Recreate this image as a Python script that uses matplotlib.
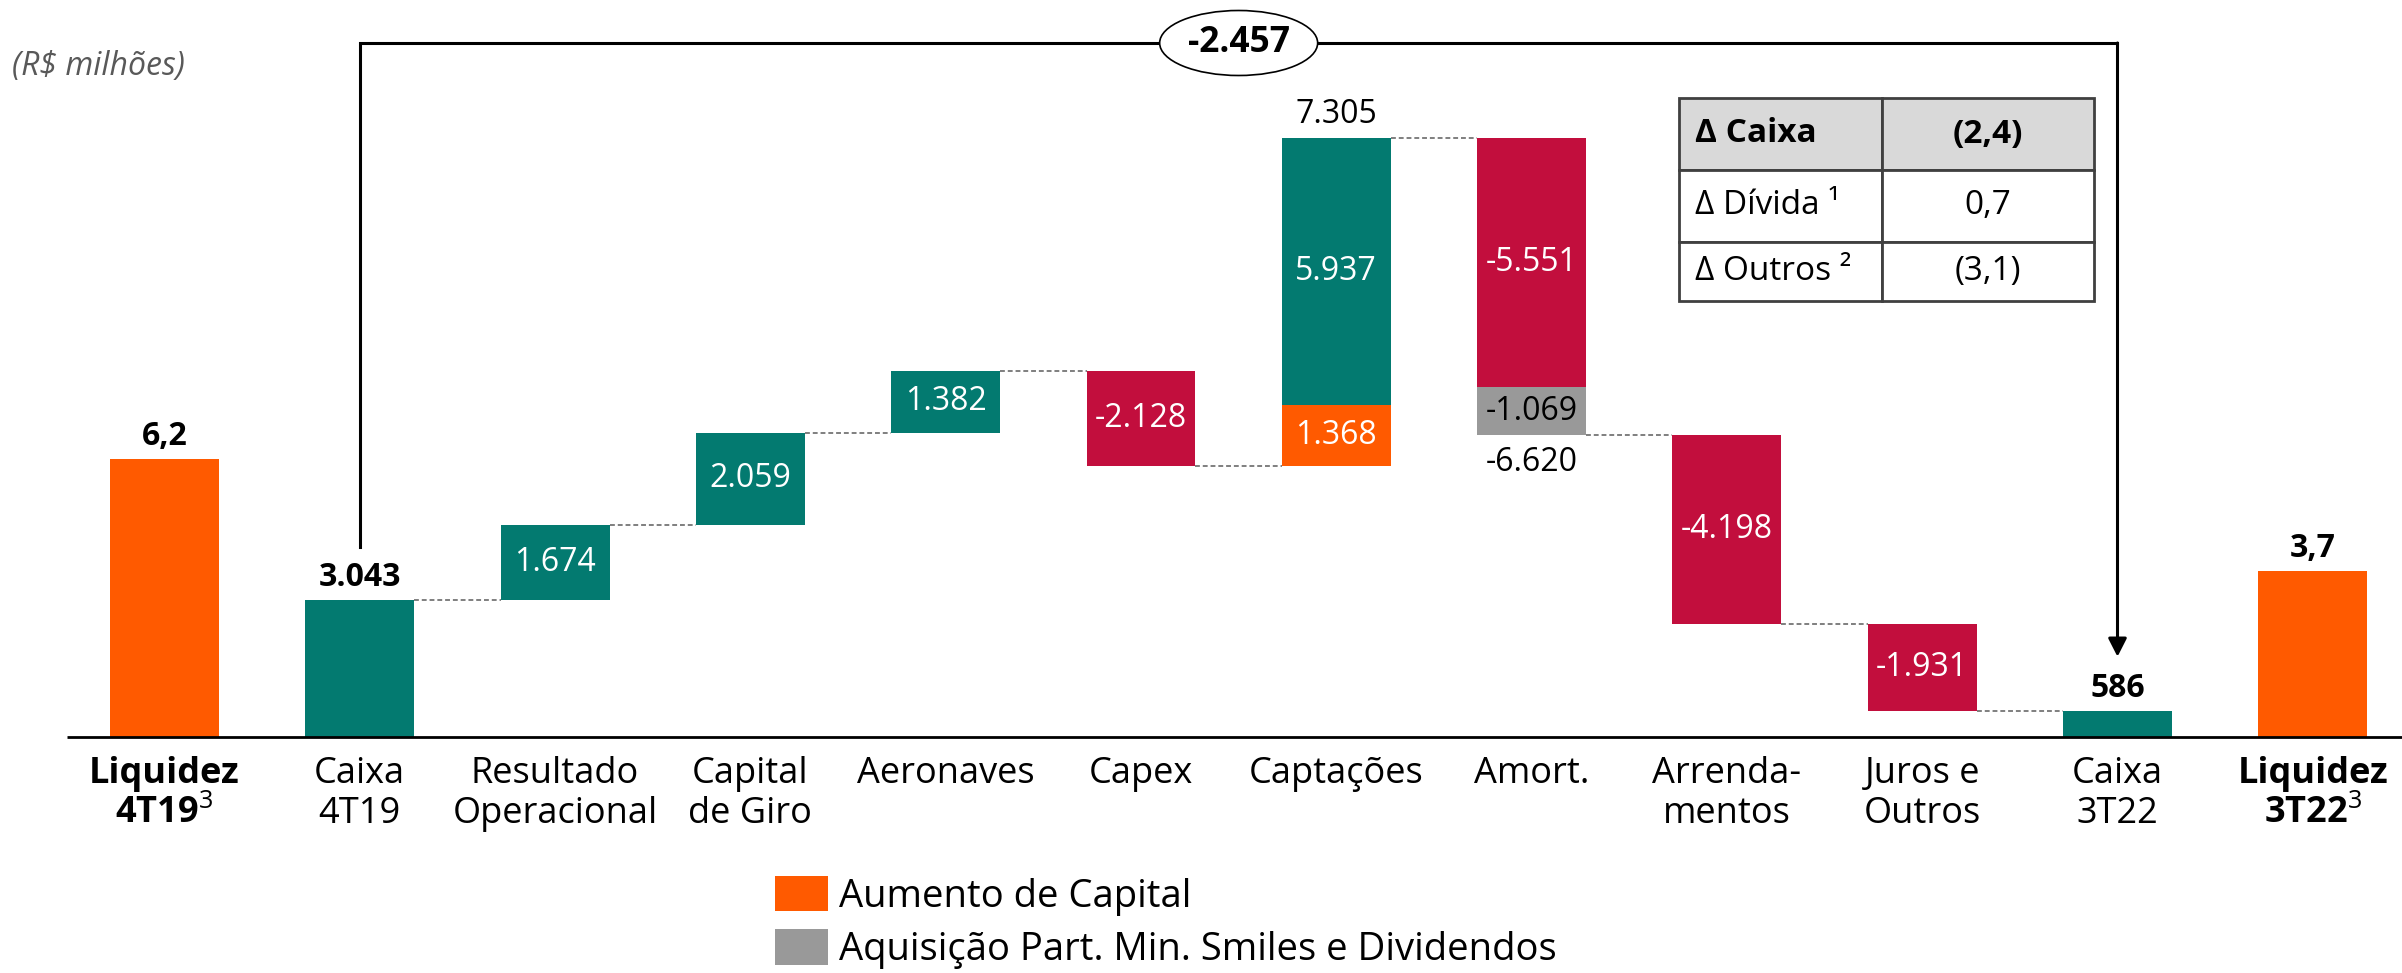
import matplotlib
matplotlib.use("Agg")
import matplotlib.pyplot as plt
import matplotlib.patches as patches

plt.rcParams['font.family'] = ['Open Sans', 'DejaVu Sans']
plt.rcParams['mathtext.fontset'] = 'custom'
plt.rcParams['mathtext.rm'] = 'Open Sans'
plt.rcParams['mathtext.it'] = 'Open Sans:italic'

# ---- data (R$ milhoes) ----
categories = ["Liquidez\n4T19$^{\\mathit{3}}$", "Caixa\n4T19", "Resultado\nOperacional", "Capital\nde Giro",
              "Aeronaves", "Capex", "Captações", "Amort.", "Arrenda-\nmentos", "Juros e\nOutros",
              "Caixa\n3T22", "Liquidez\n3T22$^{\\mathit{3}}$"]
bold_cats = [0, 11]

liquidez = [6200, 3700]
liquidez_labels = ["6,2", "3,7"]
caixa_inicio = 3043
caixa_fim = 586
flow_main = [1674, 2059, 1382, -2128, 5937, -5551, -4198, -1931]
flow_extra = [0, 0, 0, 0, 1368, -1069, 0, 0]
variacao_total = -2457

table_rows = [["Δ Caixa", "(2,4)"], ["Δ Dívida ¹", "0,7"], ["Δ Outros ²", "(3,1)"]]
legend_labels = ["Aumento de Capital", "Aquisição Part. Min. Smiles e Dividendos"]

TEAL = "#037A70"
RED = "#C20E3D"
ORANGE = "#FF5A00"
GREY = "#999999"


def fmt(v):
    return "{:,}".format(v).replace(",", ".")


W_PX, H_PX = 2402, 973
base_px = 737          # baseline position from top
px_unit = 0.0449       # pixels per R$ milhao
x0_px, step_px = 164.5, 195.3

fig = plt.figure(figsize=(W_PX / 100, H_PX / 100), dpi=100)
ax = fig.add_axes([0, 0, 1, 1])
ax.set_xlim(-x0_px / step_px, (W_PX - x0_px) / step_px)
ax.set_ylim(-(H_PX - base_px) / px_unit, base_px / px_unit)
ax.axis('off')

w = 0.558
lab_fs = 23

# baseline
ax.plot([-0.5, 12], [0, 0], color='black', lw=2, zorder=3, solid_capstyle='butt')

# endpoints
ax.bar([0, 11], liquidez, w, color=ORANGE, zorder=2)
ax.bar([1, 10], [caixa_inicio, caixa_fim], w, color=TEAL, zorder=2)

for i, val, txt in [(0, liquidez[0], liquidez_labels[0]), (11, liquidez[1], liquidez_labels[1]),
                    (1, caixa_inicio, fmt(caixa_inicio)), (10, caixa_fim, fmt(caixa_fim))]:
    ax.annotate(txt, (i, val), xytext=(0, 14), textcoords='offset pixels', ha='center',
                va='baseline', fontsize=lab_fs, fontweight='bold')

# waterfall steps
level = caixa_inicio
levels = [level]
for k, (m, e) in enumerate(zip(flow_main, flow_extra)):
    i = k + 2
    new = level + m + e
    if m >= 0:
        if e:
            ax.bar(i, e, w, bottom=level, color=ORANGE, zorder=2)
            ax.text(i, level + e / 2, fmt(e), ha='center', va='center', color='white', fontsize=lab_fs)
        ax.bar(i, m, w, bottom=level + e, color=TEAL, zorder=2)
        ax.text(i, level + e + m / 2, fmt(m), ha='center', va='center', color='white', fontsize=lab_fs)
        if e:
            ax.annotate(fmt(m + e), (i, new), xytext=(0, 15), textcoords='offset pixels',
                        ha='center', va='baseline', fontsize=lab_fs)
    else:
        if e:
            ax.bar(i, -e, w, bottom=new, color=GREY, zorder=2)
            ax.text(i, new - e / 2, fmt(e), ha='center', va='center', color='black', fontsize=lab_fs)
        ax.bar(i, -m, w, bottom=new - e, color=RED, zorder=2)
        ax.text(i, new - e - m / 2, fmt(m), ha='center', va='center', color='white', fontsize=lab_fs)
        if e:
            ax.annotate(fmt(m + e), (i, new), xytext=(0, -11), textcoords='offset pixels',
                        ha='center', va='top', fontsize=lab_fs)
    level = new
    levels.append(level)

# dashed connectors
for j, lv in enumerate(levels):
    ax.plot([1 + j + w / 2, 2 + j - w / 2], [lv, lv], color='#7F7F7F', lw=1.4,
            ls=(0, (2.5, 1.5)), zorder=1)

# category labels
for i, c in enumerate(categories):
    ax.annotate(c, (i, 0), xytext=(0, -19), textcoords='offset pixels', ha='center', va='top',
                fontsize=26, linespacing=1.13, multialignment='center',
                fontweight='bold' if i in bold_cats else 'normal')

# bracket with total variation
bracket_y = (base_px - 43) / px_unit
left_end = caixa_inicio + 53 / px_unit
arrow_tip = caixa_fim + 54 / px_unit
ax.plot([1, 1, 10], [left_end, bracket_y, bracket_y], color='black', lw=2.2,
        solid_joinstyle='miter', zorder=3)
ax.annotate('', xy=(10, arrow_tip), xytext=(10, bracket_y),
            arrowprops=dict(arrowstyle='-|>,head_length=0.55,head_width=0.28', color='black',
                            lw=2.2, mutation_scale=20, shrinkA=0, shrinkB=0), zorder=3)
ell = patches.Ellipse((5.5, bracket_y), 158 / step_px, 65 / px_unit, facecolor='white',
                      edgecolor='black', lw=1.2, zorder=4)
ax.add_patch(ell)
ax.text(5.5, bracket_y, fmt(variacao_total), ha='center', va='center', fontsize=25.5,
        fontweight='bold', zorder=5)

# unit note
ax.text(12 / W_PX, 1 - 67 / H_PX, "(R$ milhões)", transform=ax.transAxes, ha='left', va='center',
        fontsize=23, style='italic', color='#595959')

# table
tb = ax.table(cellText=table_rows, cellLoc='center', colWidths=[203, 212],
              bbox=[1679 / W_PX, 1 - 301 / H_PX, 415 / W_PX, 203 / H_PX])
tb.auto_set_font_size(False)
row_h = [72, 72, 59]
for (r, c), cell in tb.get_celld().items():
    cell.set_height(row_h[r])
    cell.set_edgecolor('#404040')
    cell.set_linewidth(2)
    cell.get_text().set_fontsize(24)
    if c == 0:
        cell.get_text().set_ha('left')
        cell._loc = 'left'
        cell.PAD = 0.08
    if r == 0:
        cell.set_facecolor('#D9D9D9')
        cell.get_text().set_fontweight('bold')

# legend
handles = [patches.Patch(facecolor=ORANGE), patches.Patch(facecolor=GREY)]
ax.legend(handles, legend_labels, loc='upper left', bbox_to_anchor=(775 / W_PX, 1 - 876 / H_PX),
          frameon=False, fontsize=27.5, handlelength=1.39, handleheight=1.05, handletextpad=0.29,
          labelspacing=0.35, borderpad=0, borderaxespad=0)

fig.savefig("out.png", dpi=100)
